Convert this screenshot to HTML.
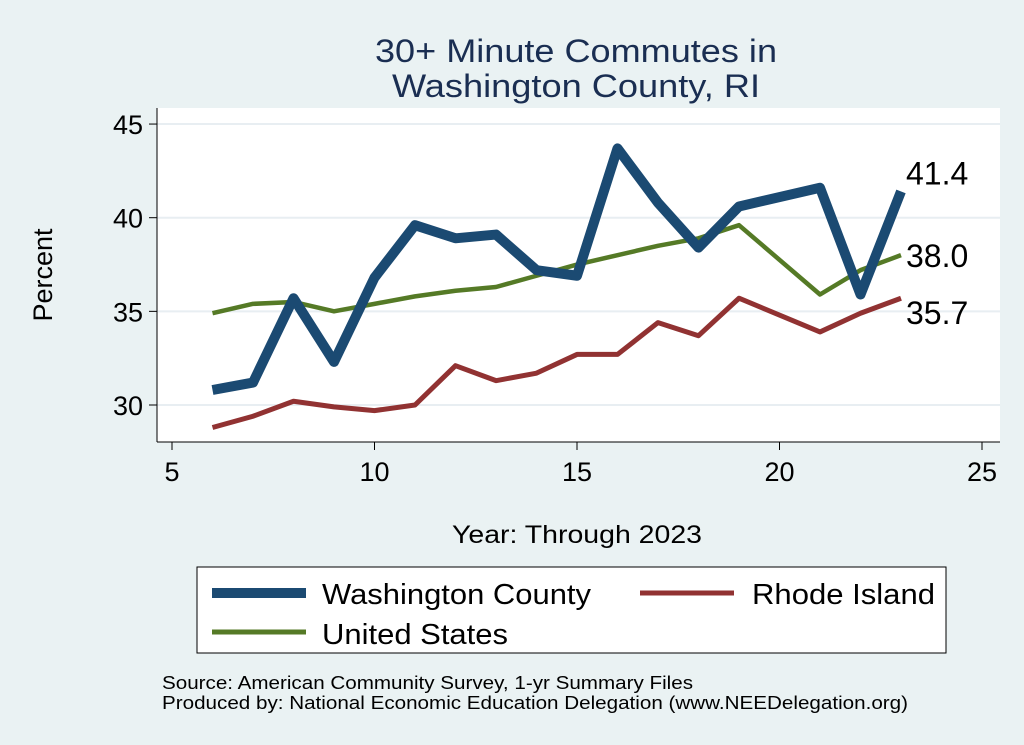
<!DOCTYPE html>
<html><head><meta charset="utf-8"><style>
body{margin:0;background:#eaf2f3;}
svg{display:block;font-family:"Liberation Sans",sans-serif;}
</style></head><body>
<svg id="c" width="1024" height="745">
<rect width="1024" height="745" fill="#eaf2f3"/>
<text x="375" y="62" textLength="402" lengthAdjust="spacingAndGlyphs" font-size="32" fill="#1a2e52">30+ Minute Commutes in</text>
<text x="392" y="97" textLength="368" lengthAdjust="spacingAndGlyphs" font-size="32" fill="#1a2e52">Washington County, RI</text>
<rect x="157" y="108" width="843" height="334" fill="#ffffff"/>
<g id="grid"></g><g id="axes"></g><g id="series"></g>
<text x="52" y="275" text-anchor="middle" font-size="27" transform="rotate(-90 52 275)">Percent</text>
<text x="452" y="543" textLength="250" lengthAdjust="spacingAndGlyphs" font-size="25">Year: Through 2023</text>
<g>
<rect x="197" y="567" width="749" height="86" fill="#fff" stroke="#000" stroke-width="1"/>
<line x1="212" y1="593" x2="306" y2="593" stroke="#1b4a72" stroke-width="10"/>
<text x="322" y="604" textLength="269" lengthAdjust="spacingAndGlyphs" font-size="29">Washington County</text>
<line x1="640" y1="593" x2="734" y2="593" stroke="#913232" stroke-width="5"/>
<text x="752" y="604" textLength="183" lengthAdjust="spacingAndGlyphs" font-size="29">Rhode Island</text>
<line x1="212" y1="632" x2="306" y2="632" stroke="#557a26" stroke-width="5"/>
<text x="322" y="644" textLength="186" lengthAdjust="spacingAndGlyphs" font-size="29">United States</text>
</g>
<text x="162" y="689" textLength="531" lengthAdjust="spacingAndGlyphs" font-size="18">Source: American Community Survey, 1-yr Summary Files</text>
<text x="162" y="709" textLength="746" lengthAdjust="spacingAndGlyphs" font-size="18">Produced by: National Economic Education Delegation (www.NEEDelegation.org)</text>
</svg>
<script>
const years=[6,7,8,9,10,11,12,13,14,15,16,17,18,19,21,22,23];
const washington=[30.8,31.2,35.7,32.3,36.8,39.6,38.9,39.1,37.2,36.9,43.7,40.8,38.4,40.6,41.6,35.9,41.4];
const rhodeIsland=[28.8,29.4,30.2,29.9,29.7,30.0,32.1,31.3,31.7,32.7,32.7,34.4,33.7,35.7,33.9,34.9,35.7];
const unitedStates=[34.9,35.4,35.5,35.0,35.4,35.8,36.1,36.3,36.9,37.5,38.0,38.5,38.9,39.6,35.9,37.2,38.0];
const xTicks=[5,10,15,20,25];
const yTicks=[30,35,40,45];
const endLabels=["41.4","38.0","35.7"];
const NS="http://www.w3.org/2000/svg";
const X=v=>172+(v-5)*40.5, Y=v=>405-(v-30)*18.73;
function mk(t,a,p){const e=document.createElementNS(NS,t);for(const k in a)e.setAttribute(k,a[k]);p.appendChild(e);return e;}
const grid=document.getElementById('grid'),axes=document.getElementById('axes'),ser=document.getElementById('series');
yTicks.forEach(v=>{
 const g=mk('line',{x1:157,x2:1000,y1:Y(v),y2:Y(v),stroke:'#e8eef2','stroke-width':2},grid);
 
 
 const t=mk('line',{x1:149,x2:157,y1:Y(v),y2:Y(v),stroke:'#000'},axes);
 
 
 const l=mk('text',{x:143,y:Y(v)+10,'text-anchor':'end','font-size':27},axes);l.textContent=v;
 
 
});
xTicks.forEach(v=>{
 const t=mk('line',{x1:X(v),x2:X(v),y1:442,y2:450,stroke:'#000'},axes);
 
 
 const l=mk('text',{x:X(v),y:481,'text-anchor':'middle','font-size':27},axes);l.textContent=v;
 
 
});
const ya=mk('line',{x1:157,x2:157,y1:108,y2:442,stroke:'#000'},axes);


const xa=mk('line',{x1:157,x2:1000,y1:442,y2:442,stroke:'#000'},axes);


function line(vals,col,w,name){
 const p=mk('polyline',{points:years.map((y,i)=>X(y)+','+Y(vals[i])).join(' '),fill:'none',stroke:col,'stroke-width':w,'stroke-linejoin':'round'},ser);
 
 
}
line(rhodeIsland,'#913232',5,'line-rhode-island');
line(unitedStates,'#557a26',4.5,'line-united-states');
line(washington,'#1b4a72',10,'line-washington-county');
const last=years.length-1;
[[washington,-1],[unitedStates,0],[rhodeIsland,1]].forEach(([s,o],i)=>{
 const yy=Y(s[last]);const off=o<0?-7:(o>0?26:12);
 const t=mk('text',{x:X(years[last])+5,y:yy+off,'font-size':32},ser);t.textContent=endLabels[i];
 
 
});
</script>
</body></html>
